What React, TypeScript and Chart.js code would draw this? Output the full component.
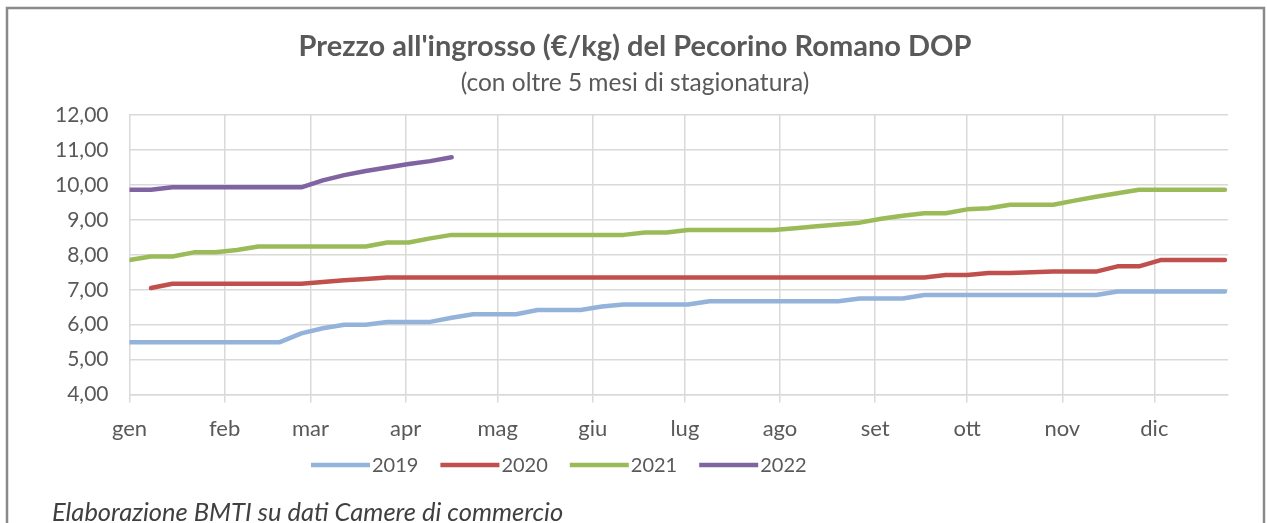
import React, { useEffect, useRef } from "react";
import { Chart, registerables } from "chart.js";

Chart.register(...registerables);

const titleText = "Prezzo all'ingrosso (€/kg) del Pecorino Romano DOP";
const subtitleText = "(con oltre 5 mesi di stagionatura)";
const footnoteText = "Elaborazione BMTI su dati Camere di commercio";

// x positions: day of year of each weekly observation
const weekDays = [
  0, 7, 14, 21, 28, 35, 42, 49, 56, 63, 70, 77, 84, 91, 98, 105, 112, 119, 126,
  133, 140, 147, 154, 161, 168, 175, 182, 189, 196, 203, 210, 217, 224, 231,
  238, 245, 252, 259, 266, 273, 280, 287, 294, 301, 308, 315, 322, 329, 336,
  343, 350, 357,
];

const monthStartDays = [0, 31, 59, 90, 120, 151, 181, 212, 243, 273, 304, 334];
const monthLabels = ["gen", "feb", "mar", "apr", "mag", "giu", "lug", "ago", "set", "ott", "nov", "dic"];
const yTicks = [4, 5, 6, 7, 8, 9, 10, 11, 12];

const seriesNames = ["2019", "2020", "2021", "2022"];
const seriesColors = ["#93B3DB", "#C0504D", "#9BBB59", "#8064A2"];

const prices2019 = [
  5.5, 5.5, 5.5, 5.5, 5.5, 5.5, 5.5, 5.5, 5.75, 5.9, 6.0, 6.0, 6.08, 6.08, 6.08,
  6.2, 6.3, 6.3, 6.3, 6.42, 6.42, 6.42, 6.52, 6.58, 6.58, 6.58, 6.58, 6.67, 6.67,
  6.67, 6.67, 6.67, 6.67, 6.67, 6.75, 6.75, 6.75, 6.85, 6.85, 6.85, 6.85, 6.85,
  6.85, 6.85, 6.85, 6.85, 6.95, 6.95, 6.95, 6.95, 6.95, 6.95,
];

const prices2020 = [
  null, 7.05, 7.17, 7.17, 7.17, 7.17, 7.17, 7.17, 7.17, 7.22, 7.27, 7.31, 7.35,
  7.35, 7.35, 7.35, 7.35, 7.35, 7.35, 7.35, 7.35, 7.35, 7.35, 7.35, 7.35, 7.35,
  7.35, 7.35, 7.35, 7.35, 7.35, 7.35, 7.35, 7.35, 7.35, 7.35, 7.35, 7.35, 7.42,
  7.42, 7.48, 7.48, 7.5, 7.52, 7.52, 7.52, 7.67, 7.67, 7.85, 7.85, 7.85, 7.85,
];

const prices2021 = [
  7.85, 7.95, 7.95, 8.07, 8.07, 8.14, 8.24, 8.24, 8.24, 8.24, 8.24, 8.24, 8.35,
  8.35, 8.47, 8.57, 8.57, 8.57, 8.57, 8.57, 8.57, 8.57, 8.57, 8.57, 8.64, 8.64,
  8.71, 8.71, 8.71, 8.71, 8.71, 8.76, 8.82, 8.87, 8.92, 9.03, 9.12, 9.19, 9.19,
  9.3, 9.33, 9.43, 9.43, 9.43, 9.55, 9.66, 9.76, 9.86, 9.86, 9.86, 9.86, 9.86,
];

const prices2022 = [
  9.86, 9.86, 9.93, 9.93, 9.93, 9.93, 9.93, 9.93, 9.93, 10.13, 10.28, 10.4, 10.5,
  10.6, 10.68, 10.79, null, null, null, null, null, null, null, null, null, null,
  null, null, null, null, null, null, null, null, null, null, null, null, null,
  null, null, null, null, null, null, null, null, null, null, null, null, null,
];

const allSeries = [prices2019, prices2020, prices2021, prices2022];

const TEXT_COLOR = "#595959";
const FONT = "Lato, 'Open Sans', sans-serif";

const decorPlugin = {
  id: "decor",
  beforeDraw(chart: any) {
    const { ctx, width, height } = chart;
    ctx.save();
    ctx.fillStyle = "#ffffff";
    ctx.fillRect(0, 0, width, height);
    ctx.strokeStyle = "#8a8a8a";
    ctx.lineWidth = 2.5;
    ctx.strokeRect(7, 8, 1257, 560);
    ctx.restore();
  },
  afterDraw(chart: any) {
    const { ctx } = chart;
    ctx.save();
    ctx.fillStyle = TEXT_COLOR;
    ctx.textAlign = "center";
    ctx.textBaseline = "middle";
    ctx.font = `bold 29px ${FONT}`;
    ctx.fillText(titleText, 635, 47);
    ctx.font = `24.5px ${FONT}`;
    ctx.fillText(subtitleText, 635, 83);

    // legend built from the chart's datasets
    ctx.font = `20px ${FONT}`;
    ctx.textAlign = "left";
    let x = 311;
    const yMid = 465;
    chart.data.datasets.forEach((ds: any) => {
      ctx.strokeStyle = ds.borderColor;
      ctx.lineWidth = 4.5;
      ctx.lineCap = "butt";
      ctx.beginPath();
      ctx.moveTo(x, yMid);
      ctx.lineTo(x + 59, yMid);
      ctx.stroke();
      ctx.fillStyle = TEXT_COLOR;
      ctx.fillText(ds.label, x + 61, yMid + 1);
      x += 61 + ctx.measureText(ds.label).width + 22;
    });

    ctx.textBaseline = "alphabetic";
    ctx.font = `italic 25.5px ${FONT}`;
    ctx.fillStyle = "#404040";
    ctx.fillText(footnoteText, 52, 521);
    ctx.restore();
  },
};

export default function App() {
  const canvasRef = useRef<HTMLCanvasElement | null>(null);

  useEffect(() => {
    const canvas = canvasRef.current;
    if (!canvas) return;
    const chart = new Chart(canvas, {
      type: "line",
      data: {
        datasets: seriesNames.map((name, s) => ({
          label: name,
          data: allSeries[s].map((v, i) => ({ x: weekDays[i], y: v })),
          borderColor: seriesColors[s],
          backgroundColor: seriesColors[s],
          borderWidth: 4.5,
          pointRadius: 0,
          tension: 0,
          spanGaps: false,
          borderCapStyle: "round",
          borderJoinStyle: "round",
        })),
      },
      options: {
        responsive: false,
        animation: false,
        devicePixelRatio: 1,
        layout: { padding: { top: 115, left: 34, right: 39, bottom: 68 } },
        plugins: {
          title: { display: false },
          tooltip: { enabled: false },
          legend: { display: false },
        },
        scales: {
          x: {
            type: "linear",
            min: 0,
            max: 358,
            afterBuildTicks(scale: any) {
              scale.ticks = monthStartDays.map((d) => ({ value: d }));
            },
            ticks: {
              autoSkip: false,
              maxRotation: 0,
              padding: 13,
              color: TEXT_COLOR,
              font: { family: FONT, size: 22 },
              callback: (value: any) => {
                const idx = monthStartDays.indexOf(Number(value));
                return idx >= 0 ? monthLabels[idx] : "";
              },
            },
            grid: {
              color: "#D9D9D9",
              lineWidth: 1.5,
              drawTicks: true,
              tickLength: 8,
            },
            border: { display: true, color: "#D9D9D9", width: 1.5 },
          },
          y: {
            min: 4,
            max: 12,
            afterBuildTicks(scale: any) {
              scale.ticks = yTicks.map((v) => ({ value: v }));
            },
            ticks: {
              padding: 21,
              color: TEXT_COLOR,
              font: { family: FONT, size: 21 },
              callback: (value: any) => Number(value).toFixed(2).replace(".", ","),
            },
            grid: { color: "#D9D9D9", lineWidth: 1.5, drawTicks: false },
            border: { display: false },
          },
        },
      },
      plugins: [decorPlugin],
    } as any);
    return () => chart.destroy();
  }, []);

  return (
    <div style={{ position: "absolute", left: 0, top: 0, width: 1267, height: 523 }}>
      <canvas ref={canvasRef} width={1267} height={523} style={{ display: "block" }} />
    </div>
  );
}
